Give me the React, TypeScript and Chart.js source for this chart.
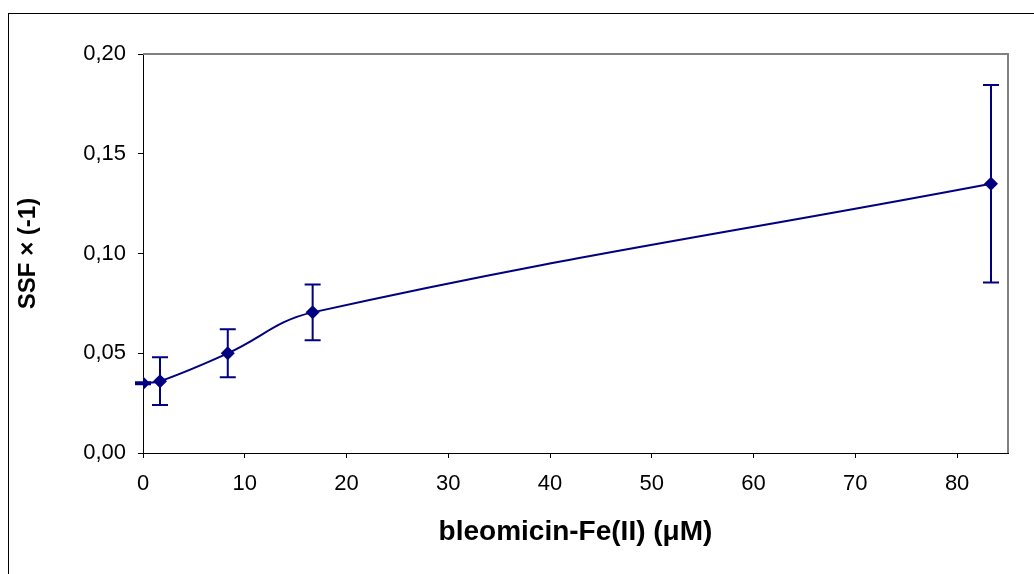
import React, { useEffect, useRef } from "react";
import { Chart, registerables } from "chart.js";

Chart.register(...registerables);

const concentrations = [0, 1.67, 8.33, 16.67, 83.33];
const ssfValues = [0.035, 0.036, 0.05, 0.0705, 0.135];
const ssfErrors = [0.0005, 0.012, 0.012, 0.014, 0.0495];
const xTickMax = 85;
const yTickMax = 0.2;

const NAVY = "#000080";
const FONT = "'Liberation Sans', Arial, sans-serif";

const errorBarPlugin = {
  id: "errorBars",
  afterDatasetsDraw(chart: any) {
    const { ctx, scales } = chart;
    const xs = scales.x;
    const ys = scales.y;
    ctx.save();
    ctx.strokeStyle = NAVY;
    ctx.lineWidth = 2;
    concentrations.forEach((c, i) => {
      const px = xs.getPixelForValue(c);
      const top = ys.getPixelForValue(ssfValues[i] + ssfErrors[i]);
      const bot = ys.getPixelForValue(ssfValues[i] - ssfErrors[i]);
      ctx.beginPath();
      ctx.moveTo(px, top);
      ctx.lineTo(px, bot);
      ctx.moveTo(px - 8, top);
      ctx.lineTo(px + 8, top);
      ctx.moveTo(px - 8, bot);
      ctx.lineTo(px + 8, bot);
      ctx.stroke();
    });
    ctx.restore();
  },
};

const plotBorderPlugin = {
  id: "plotBorder",
  afterDraw(chart: any) {
    const { ctx, chartArea } = chart;
    ctx.save();
    ctx.strokeStyle = "#808080";
    ctx.lineWidth = 2;
    ctx.beginPath();
    ctx.moveTo(chartArea.left, chartArea.top);
    ctx.lineTo(chartArea.right, chartArea.top);
    ctx.lineTo(chartArea.right, chartArea.bottom);
    ctx.stroke();
    ctx.restore();
  },
};

export default function App() {
  const ref = useRef<HTMLCanvasElement | null>(null);

  useEffect(() => {
    if (!ref.current) return;
    const chart = new Chart(ref.current, {
      type: "line",
      data: {
        datasets: [
          {
            data: concentrations.map((c, i) => ({ x: c, y: ssfValues[i] })),
            borderColor: NAVY,
            backgroundColor: NAVY,
            borderWidth: 2,
            pointStyle: "rectRot",
            pointRadius: 7,
            pointBorderWidth: 0,
            pointBackgroundColor: NAVY,
            tension: 0.4,
            fill: false,
          },
        ],
      },
      options: {
        animation: false,
        responsive: false,
        layout: { padding: { left: 0, top: 54, right: 26, bottom: 0 } },
        plugins: {
          legend: { display: false },
          tooltip: { enabled: false },
        },
        scales: {
          x: {
            type: "linear",
            min: 0,
            max: xTickMax,
            afterFit(scale: any) {
              scale.height = 121;
            },
            ticks: {
              stepSize: 10,
              includeBounds: false,
              color: "#000",
              padding: 13,
              font: { family: FONT, size: 22 },
              callback: (v: any) => String(v),
            },
            grid: {
              drawOnChartArea: false,
              drawTicks: true,
              tickLength: 5,
              color: "#000",
            },
            border: { color: "#000", width: 1 },
            title: {
              display: true,
              text: "bleomicin-Fe(II) (μM)",
              color: "#000",
              font: { family: FONT, size: 28, weight: "bold" },
              padding: { top: 0, bottom: 25 },
            },
          },
          y: {
            type: "linear",
            min: 0,
            max: yTickMax,
            afterFit(scale: any) {
              scale.width = 143;
            },
            ticks: {
              stepSize: 0.05,
              includeBounds: false,
              color: "#000",
              padding: 12,
              font: { family: FONT, size: 22 },
              callback: (v: any) => Number(v).toFixed(2).replace(".", ","),
            },
            grid: {
              drawOnChartArea: false,
              drawTicks: true,
              tickLength: 5,
              color: "#000",
            },
            border: { color: "#000", width: 1 },
            title: {
              display: true,
              text: "SSF × (-1)",
              color: "#000",
              font: { family: FONT, size: 24, weight: "bold" },
              padding: { top: 14, bottom: 0 },
            },
          },
        },
      },
      plugins: [errorBarPlugin, plotBorderPlugin],
    });
    return () => chart.destroy();
  }, []);

  return (
    <div
      style={{
        position: "absolute",
        left: 0,
        top: 0,
        width: 1034,
        height: 574,
        overflow: "hidden",
        background: "#fff",
      }}
    >
      <div
        style={{
          position: "absolute",
          left: 8,
          top: 13,
          width: 1100,
          height: 700,
          borderLeft: "1px solid #000",
          borderTop: "1px solid #000",
        }}
      />
      <canvas
        ref={ref}
        width={1034}
        height={574}
        style={{ position: "absolute", left: 0, top: 0, width: 1034, height: 574 }}
      />
    </div>
  );
}
